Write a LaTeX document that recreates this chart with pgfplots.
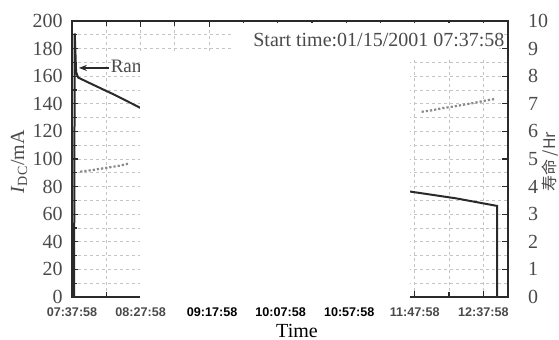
\documentclass[border=0pt]{standalone}
\usepackage{fontspec}
\setmainfont{Liberation Serif}
\newfontfamily\cjk{Noto Sans CJK SC}
\newfontfamily\xsans{Liberation Sans}
\usepackage{pgfplots}
\pgfplotsset{compat=1.18}
\usetikzlibrary{arrows.meta}
\definecolor{linec}{HTML}{2A2A2A}
\definecolor{labc}{HTML}{4A4A4A}
\definecolor{gridc}{HTML}{C4C4C4}
\definecolor{lifec}{HTML}{8A8A8A}
\begin{document}
\begin{tikzpicture}
\begin{axis}[
  scale only axis, width=218pt, height=138pt,
  xmin=0, xmax=318, ymin=0, ymax=200,
  /pgf/number format/assume math mode=true,
  axis line style={linec, line width=0.8pt},
  tick style={linec, line width=0.6pt},
  major tick length=3pt, minor tick length=2.5pt,
  xtick={0,50,...,300}, minor xtick={25,75,...,275},
  xtick pos=both, ytick pos=left,
  ytick={0,20,...,200}, minor ytick={10,30,...,190},
  grid=both,
  major grid style={gridc, line width=0.4pt, dash pattern=on 1.5pt off 1.5pt},
  minor grid style={gridc, line width=0.4pt, dash pattern=on 1.5pt off 1.5pt},
  xticklabels={{\color{labc}07:37:58},{\color{labc}08:27:58},{\hspace*{3pt}09:17:58},{\hspace*{3pt}10:07:58},{\hspace*{3pt}10:57:58},{\color{labc}11:47:58},{\color{labc}12:37:58}},
  xticklabel style={font=\xsans\fontsize{6.3}{7}\selectfont\bfseries, anchor=center, yshift=-7.5pt},
  yticklabel style={font=\fontsize{10}{10}\selectfont, text=labc, xshift=-1.2pt},
  xlabel={Time},
  every axis x label/.style={at={(axis description cs:0.516,0)}, anchor=center, yshift=-17pt, font=\fontsize{10}{11}\selectfont},
  ylabel={\textit{I}\textsubscript{DC}/mA},
  every axis y label/.style={at={(axis description cs:0,0.49)}, xshift=-26.5pt, rotate=90, anchor=center, font=\fontsize{10}{11}\selectfont, text=labc},
  unbounded coords=jump,
]
\addplot[linec, line width=1pt] coordinates {(1.5,0) (2,191) (3,163) (4.5,159) (15,154) (30,147) (46,139) (50,137)};
\addplot[linec, line width=1pt] coordinates {(246,76.5) (280,71.5) (310,66) (310,0)};
\draw[-{Stealth[length=4pt]}, linec, line width=0.9pt] (axis cs:27,166) -- (axis cs:5,166);
\node[anchor=west, font=\fontsize{9.5}{10}\selectfont, text=labc, inner sep=0pt] at (axis cs:28,166) {Ramp};
\coordinate (SW) at (rel axis cs:0,0);
\coordinate (NE) at (rel axis cs:1,1);
\end{axis}
\begin{axis}[
  scale only axis, width=218pt, height=138pt,
  xmin=0, xmax=318, ymin=0, ymax=10,
  /pgf/number format/assume math mode=true,
  axis x line=none, axis y line*=right,
  axis line style={linec, line width=0.8pt},
  tick style={linec, line width=0.6pt},
  major tick length=3pt,
  ytick={0,1,...,10},
  yticklabel style={font=\fontsize{10}{10}\selectfont, text=labc, anchor=west, xshift=6.5pt},
  ylabel={\cjk 寿命 /Hr},
  every axis y label/.style={at={(axis description cs:1,0.49)}, xshift=21pt, rotate=90, anchor=center, font=\fontsize{8}{9}\selectfont, text=labc},
  clip=false,
]
\fill[white] (axis cs:49.6,-0.1) rectangle (axis cs:246.4,8.875);
\fill[white] (axis cs:116.6,8.585) rectangle (axis cs:311.5,9.93);
\addplot[lifec, line width=1.1pt, densely dotted] coordinates {(6,4.54) (15,4.6) (25,4.68) (35,4.76) (41,4.83)};
\addplot[lifec, line width=1.1pt, densely dotted] coordinates {(255,6.71) (262,6.76) (270,6.84) (278,6.9) (286,6.97) (294,7.04) (302,7.12) (309,7.18)};
\node[anchor=east, font=\fontsize{10}{11}\selectfont, text=labc, inner sep=0pt] at (axis cs:315.7,9.3) {Start time:01/15/2001 07:37:58};
\end{axis}
\pgfresetboundingbox
\path[use as bounding box] ([shift={(-36pt,-21.5pt)}]SW) rectangle ([shift={(25.5pt,10.5pt)}]NE);
\end{tikzpicture}
\end{document}
